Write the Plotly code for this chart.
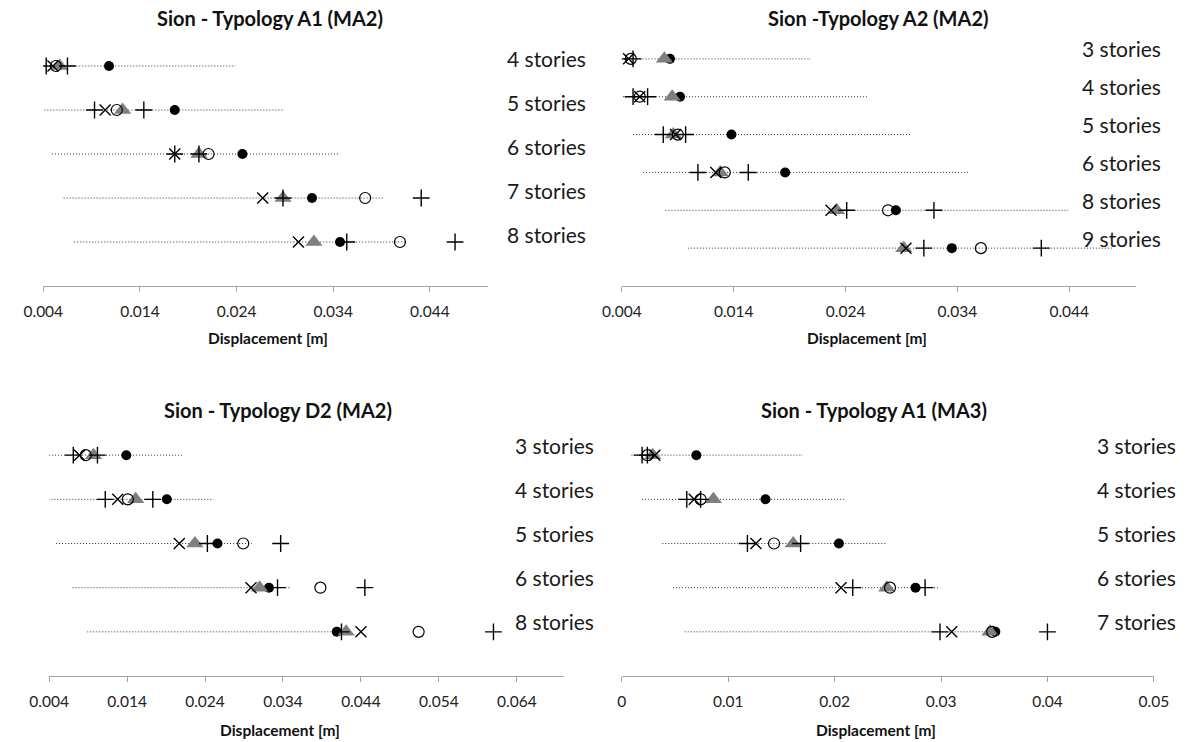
import plotly.graph_objects as go

# ---------------- data ----------------
tl_stories = ["4 stories", "5 stories", "6 stories", "7 stories", "8 stories"]
tl_line_lo = [0.0040, 0.0038, 0.0049, 0.0061, 0.0072]
tl_line_hi = [0.0239, 0.0289, 0.0347, 0.0393, 0.0416]
tl_filled = [0.0108, 0.0176, 0.0246, 0.0318, 0.0347]
tl_open = [0.0053, 0.0116, 0.0211, 0.0373, 0.0409]
tl_cross = [0.0050, 0.0104, 0.0176, 0.0267, 0.0304]
tl_plus_lo = [0.0043, 0.0093, 0.0176, 0.0288, 0.0354]
tl_plus_hi = [0.0065, 0.0144, 0.0201, 0.0431, 0.0466]
tl_tri = [0.0057, 0.0122, 0.0201, 0.0288, 0.0320]

tr_stories = ["3 stories", "4 stories", "5 stories", "6 stories", "8 stories", "9 stories"]
tr_line_lo = [0.0037, 0.0041, 0.0050, 0.0059, 0.0079, 0.0099]
tr_line_hi = [0.0209, 0.0259, 0.0299, 0.0350, 0.0439, 0.0478]
tr_filled = [0.0083, 0.0092, 0.0138, 0.0186, 0.0285, 0.0335]
tr_open = [0.0048, 0.0056, 0.0090, 0.0132, 0.0278, 0.0361]
tr_cross = [0.0046, 0.0056, 0.0088, 0.0124, 0.0227, 0.0294]
tr_plus_lo = [0.0037, 0.0050, 0.0077, 0.0108, 0.0241, 0.0310]
tr_plus_hi = [0.0050, 0.0063, 0.0097, 0.0153, 0.0319, 0.0415]
tr_tri = [0.0078, 0.0085, 0.0086, 0.0128, 0.0232, 0.0292]

bl_stories = ["3 stories", "4 stories", "5 stories", "6 stories", "8 stories"]
bl_line_lo = [0.0040, 0.0039, 0.0049, 0.0070, 0.0089]
bl_line_hi = [0.0212, 0.0251, 0.0300, 0.0351, 0.0407]
bl_filled = [0.0139, 0.0191, 0.0256, 0.0322, 0.0409]
bl_open = [0.0087, 0.0141, 0.0289, 0.0388, 0.0514]
bl_cross = [0.0079, 0.0128, 0.0207, 0.0299, 0.0440]
bl_plus_lo = [0.0071, 0.0112, 0.0243, 0.0333, 0.0415]
bl_plus_hi = [0.0102, 0.0173, 0.0337, 0.0445, 0.0610]
bl_tri = [0.0097, 0.0151, 0.0227, 0.0310, 0.0421]

br_stories = ["3 stories", "4 stories", "5 stories", "6 stories", "7 stories"]
br_line_lo = [0.0009, 0.0019, 0.0038, 0.0048, 0.0059]
br_line_hi = [0.0170, 0.0210, 0.0249, 0.0298, 0.0346]
br_filled = [0.0070, 0.0135, 0.0204, 0.0276, 0.0351]
br_open = [0.0024, 0.0074, 0.0143, 0.0252, 0.0348]
br_cross = [0.0031, 0.0068, 0.0126, 0.0206, 0.0310]
br_plus_lo = [0.0019, 0.0061, 0.0118, 0.0217, 0.0299]
br_plus_hi = [0.0024, 0.0074, 0.0168, 0.0285, 0.0400]
br_tri = [0.0029, 0.0086, 0.0161, 0.0249, 0.0346]

tick_vals_a = [0.004, 0.014, 0.024, 0.034, 0.044]
tick_text_a = ["0.004", "0.014", "0.024", "0.034", "0.044"]
tick_vals_d = [0.004, 0.014, 0.024, 0.034, 0.044, 0.054, 0.064]
tick_text_d = ["0.004", "0.014", "0.024", "0.034", "0.044", "0.054", "0.064"]
tick_vals_b = [0, 0.01, 0.02, 0.03, 0.04, 0.05]
tick_text_b = ["0", "0.01", "0.02", "0.03", "0.04", "0.05"]

W, H = 1197, 742
FONT = "Lato"

panels = [
    dict(title="Sion - Typology A1 (MA2)", stories=tl_stories, lo=tl_line_lo, hi=tl_line_hi,
         filled=tl_filled, open=tl_open, cross=tl_cross, plo=tl_plus_lo, phi=tl_plus_hi, tri=tl_tri,
         xr=[0.004, 0.050], tv=tick_vals_a, tt=tick_text_a,
         px=(24, 482), py=(22, 286), title_xy=(258, 18), axt_xy=(255, 338), lab_x=500, lab_shift=7),
    dict(title="Sion -Typology A2 (MA2)", stories=tr_stories, lo=tr_line_lo, hi=tr_line_hi,
         filled=tr_filled, open=tr_open, cross=tr_cross, plo=tr_plus_lo, phi=tr_plus_hi, tri=tr_tri,
         xr=[0.004, 0.050], tv=tick_vals_a, tt=tick_text_a,
         px=(620, 1150), py=(21, 286), title_xy=(884, 18), axt_xy=(872, 338), lab_x=1092, lab_shift=10),
    dict(title="Sion - Typology D2 (MA2)", stories=bl_stories, lo=bl_line_lo, hi=bl_line_hi,
         filled=bl_filled, open=bl_open, cross=bl_cross, plo=bl_plus_lo, phi=bl_plus_hi, tri=bl_tri,
         xr=[0.004, 0.070], tv=tick_vals_d, tt=tick_text_d,
         px=(30, 560), py=(411, 676), title_xy=(266, 410), axt_xy=(268, 730), lab_x=508, lab_shift=10),
    dict(title="Sion - Typology A1 (MA3)", stories=br_stories, lo=br_line_lo, hi=br_line_hi,
         filled=br_filled, open=br_open, cross=br_cross, plo=br_plus_lo, phi=br_plus_hi, tri=br_tri,
         xr=[0.0, 0.050], tv=tick_vals_b, tt=tick_text_b,
         px=(620, 1168), py=(411, 676), title_xy=(880, 410), axt_xy=(882, 730), lab_x=1107, lab_shift=10),
]

fig = go.Figure()
annotations = []
layout_axes = {}

for i, p in enumerate(panels):
    k = "" if i == 0 else str(i + 1)
    xa, ya = "x" + k, "y" + k
    n = len(p["stories"])
    rows = list(range(1, n + 1))

    lx, ly = [], []
    for r, a, b in zip(rows, p["lo"], p["hi"]):
        lx += [a, b, None]
        ly += [r, r, None]
    fig.add_trace(go.Scatter(x=lx, y=ly, mode="lines", xaxis=xa, yaxis=ya,
                             line=dict(color="#333333", width=1, dash="1px,2px"),
                             showlegend=False, hoverinfo="skip"))
    fig.add_trace(go.Scatter(x=p["filled"], y=rows, mode="markers", xaxis=xa, yaxis=ya,
                             marker=dict(symbol="circle", size=10, color="black"), showlegend=False))
    fig.add_trace(go.Scatter(x=p["tri"], y=rows, mode="markers", xaxis=xa, yaxis=ya,
                             marker=dict(symbol="triangle-up", size=15, color="#7f7f7f"), showlegend=False))
    fig.add_trace(go.Scatter(x=p["open"], y=rows, mode="markers", xaxis=xa, yaxis=ya,
                             marker=dict(symbol="circle-open", size=11, color="black",
                                         line=dict(width=1.2, color="black")), showlegend=False))
    fig.add_trace(go.Scatter(x=p["cross"], y=rows, mode="markers", xaxis=xa, yaxis=ya,
                             marker=dict(symbol="x-thin", size=11, color="black",
                                         line=dict(width=1.4, color="black")), showlegend=False))
    for pl in (p["plo"], p["phi"]):
        fig.add_trace(go.Scatter(x=pl, y=rows, mode="markers", xaxis=xa, yaxis=ya,
                                 marker=dict(symbol="cross-thin", size=12, color="black",
                                             line=dict(width=1.4, color="black")), showlegend=False))

    x0, x1 = p["px"]
    y0, y1 = p["py"]
    layout_axes["xaxis" + k] = dict(
        domain=[x0 / W, x1 / W], anchor=ya, range=p["xr"], tickvals=p["tv"], ticktext=p["tt"],
        showline=True, linecolor="#a6a6a6", linewidth=1, ticks="outside", ticklen=5,
        tickcolor="#a6a6a6", showgrid=False, zeroline=False, ticklabelstandoff=6,
        tickfont=dict(family=FONT, size=15.5, color="#222222"), fixedrange=True)
    layout_axes["yaxis" + k] = dict(
        domain=[1 - y1 / H, 1 - y0 / H], anchor=xa, range=[n + 1, 0], visible=False,
        showgrid=False, zeroline=False, fixedrange=True)

    for r, s in zip(rows, p["stories"]):
        annotations.append(dict(text=s, xref="paper", yref=ya, x=p["lab_x"] / W, y=r,
                                xanchor="left", yanchor="middle", yshift=p["lab_shift"],
                                showarrow=False, font=dict(family=FONT, size=21, color="#1a1a1a")))
    tx, ty = p["title_xy"]
    annotations.append(dict(text="<b>" + p["title"] + "</b>", xref="paper", yref="paper",
                            x=tx / W, y=1 - ty / H, xanchor="center", yanchor="middle",
                            showarrow=False, font=dict(family=FONT, size=20, color="#111111")))
    ax, ay = p["axt_xy"]
    annotations.append(dict(text="<b>Displacement [m]</b>", xref="paper", yref="paper",
                            x=ax / W, y=1 - ay / H, xanchor="center", yanchor="middle",
                            showarrow=False, font=dict(family=FONT, size=15.5, color="#111111")))

fig.update_layout(width=W, height=H, margin=dict(l=0, r=0, t=0, b=0),
                  paper_bgcolor="white", plot_bgcolor="rgba(0,0,0,0)",
                  annotations=annotations, showlegend=False, **layout_axes)

fig.write_html("out.html")
